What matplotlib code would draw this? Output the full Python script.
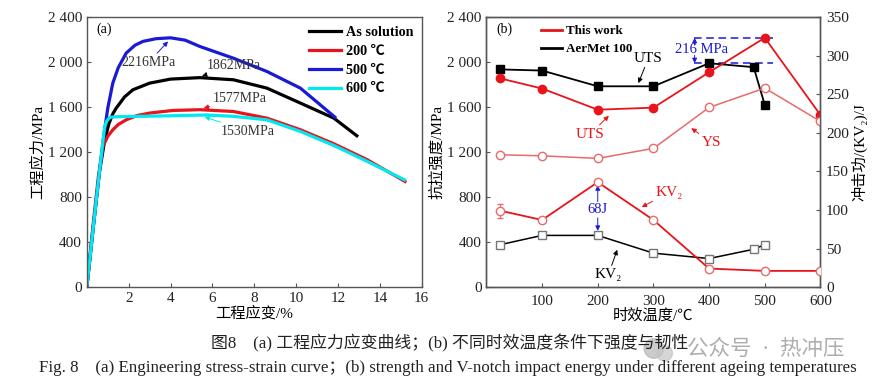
import matplotlib
matplotlib.use("Agg")
import matplotlib.pyplot as plt
from matplotlib.ticker import FuncFormatter
from matplotlib.lines import Line2D
from matplotlib.patches import Ellipse

plt.rcParams['font.family'] = ['Liberation Serif', 'Noto Sans CJK SC', 'DejaVu Sans']
plt.rcParams['axes.unicode_minus'] = False

# ---- (a) 工程应力应变曲线 ----
strain_solution = [0, 0.3, 0.6, 0.85, 1.05, 1.24, 1.4, 1.8, 2.2, 3.0, 4.0, 5.4, 7.0, 8.6, 10.2, 11.8, 12.9]
stress_solution = [0, 520, 1020, 1300, 1450, 1540, 1590, 1690, 1754, 1813, 1849, 1862, 1843, 1769, 1636, 1502, 1345]

strain_200 = [0, 0.29, 0.55, 0.77, 1.0, 1.24, 1.5, 1.88, 2.4, 3.0, 4.1, 5.4, 7.0, 8.6, 10.2, 11.8, 13.4, 15.2]
stress_200 = [0, 539, 980, 1250, 1340, 1398, 1445, 1487, 1525, 1547, 1570, 1577, 1561, 1502, 1399, 1274, 1132, 939]

strain_500 = [0, 0.3, 0.6, 0.8, 1.0, 1.24, 1.5, 1.88, 2.3, 2.68, 3.3, 4.0, 4.7, 5.4, 7.0, 8.6, 10.2, 11.85]
stress_500 = [0, 520, 1020, 1330, 1590, 1813, 1950, 2080, 2150, 2184, 2208, 2216, 2195, 2139, 2035, 1917, 1769, 1511]

strain_600 = [0, 0.3, 0.6, 0.85, 0.95, 1.05, 1.16, 1.5, 2.2, 3.8, 5.7, 7.0, 8.6, 10.2, 11.8, 13.4, 15.17]
stress_600 = [0, 520, 1020, 1428, 1475, 1500, 1511, 1515, 1517, 1522, 1530, 1518, 1487, 1384, 1259, 1117, 954]

# ---- (b) 不同时效温度下强度与韧性 ----
temp_this = [25, 100, 200, 300, 400, 500, 600]
uts_this = [1855, 1765, 1577, 1595, 1910, 2216, 1530]
ys_this = [1176, 1167, 1144, 1233, 1597, 1769, 1473]
kv2_this = [99, 87, 136, 87, 24, 21, 21]
kv2_this_err = [9, 2, 2, 1, 1, 1, 1]

temp_aermet = [25, 100, 200, 300, 400, 480, 500]
uts_aermet = [1935, 1925, 1785, 1785, 1990, 1955, 1620]
kv2_aermet = [55, 67, 67, 44, 37, 49, 55]

RED = '#e8141b'
PINK = '#e86a6a'
BLUE = '#1a1ad6'
CYAN = '#00e8f0'
SPINE = '#555555'


def thousands(v, pos):
    v = int(round(v))
    if v >= 1000:
        return f"{v // 1000} {v % 1000:03d}"
    return str(v)


def style_axes(ax):
    for s in ax.spines.values():
        s.set_color(SPINE)
        s.set_linewidth(1.0)
    ax.tick_params(direction='in', length=3, width=0.8, colors=SPINE,
                   labelcolor='#222222', labelsize=11)


fig = plt.figure(figsize=(8.86, 3.89), dpi=100)
ax1 = fig.add_axes([0.098, 0.262, 0.378, 0.694])
ax2 = fig.add_axes([0.549, 0.262, 0.377, 0.694])

# ---------------- panel (a) ----------------
ax1.plot(strain_solution, stress_solution, color='black', lw=2.3, label='As solution')
ax1.plot(strain_200, stress_200, color=RED, lw=2.3, label='200 ℃')
ax1.plot(strain_500, stress_500, color=BLUE, lw=2.3, label='500 ℃')
ax1.plot(strain_600, stress_600, color=CYAN, lw=2.3, label='600 ℃')
ax1.set_xlim(0, 16)
ax1.set_ylim(0, 2400)
ax1.set_xticks([2, 4, 6, 8, 10, 12, 14, 16])
ax1.set_yticks([0, 400, 800, 1200, 1600, 2000, 2400])
ax1.yaxis.set_major_formatter(FuncFormatter(thousands))
style_axes(ax1)
ax1.set_xlabel('工程应变/%', fontsize=11, labelpad=1)
ax1.set_ylabel('工程应力/MPa', fontsize=11, labelpad=2)
ax1.text(0.45, 2290, '(a)', fontsize=10, va='center')
ax1.legend(loc='upper right', frameon=False, handlelength=2.3,
           borderaxespad=0.2, labelspacing=0.42, handletextpad=0.3,
           prop={'weight': 'bold', 'size': 10.2})

ap = dict(arrowstyle='-|>', lw=0.7, mutation_scale=7, shrinkA=0, shrinkB=0)
ax1.annotate('2216MPa', xy=(3.88, 2184), xytext=(2.95, 1997), fontsize=10, ha='center', va='center',
             color='#333333', arrowprops=dict(ap, color=BLUE))
ax1.annotate('1862MPa', xy=(5.5, 1876), xytext=(5.75, 1967), fontsize=10, ha='left', va='center',
             color='#333333', arrowprops=dict(ap, color='black'))
ax1.annotate('1577MPa', xy=(5.58, 1591), xytext=(6.0, 1674), fontsize=10, ha='left', va='center',
             color='#333333', arrowprops=dict(ap, color=RED))
ax1.annotate('1530MPa', xy=(5.63, 1513), xytext=(6.4, 1384), fontsize=10, ha='left', va='center',
             color='#333333', arrowprops=dict(ap, color=CYAN))

# ---------------- panel (b) ----------------
ax2r = ax2.twinx()
ax2.plot(temp_aermet, uts_aermet, color='black', lw=1.3, marker='s', ms=5.5,
         mfc='black', mec='black', zorder=3)
ax2.plot(temp_this, uts_this, color=RED, lw=1.3, marker='o', ms=6,
         mfc=RED, mec=RED, zorder=3)
ax2.plot(temp_this, ys_this, color=PINK, lw=1.1, marker='o', ms=6,
         mfc='white', mec=PINK, zorder=3)
ax2r.errorbar(temp_this, kv2_this, yerr=kv2_this_err, color=RED, lw=1.3, marker='o', ms=6,
              mfc='white', mec=PINK, ecolor=PINK, elinewidth=0.8, capsize=2, zorder=3)
ax2r.plot(temp_aermet, kv2_aermet, color='black', lw=1.1, marker='s', ms=6,
          mfc='white', mec='#777777', zorder=3)

ax2.set_xlim(0, 600)
ax2.set_ylim(0, 2400)
ax2r.set_ylim(0, 350)
ax2.set_xticks([100, 200, 300, 400, 500, 600])
ax2.set_yticks([0, 400, 800, 1200, 1600, 2000, 2400])
ax2r.set_yticks([0, 50, 100, 150, 200, 250, 300, 350])
ax2.yaxis.set_major_formatter(FuncFormatter(thousands))
style_axes(ax2)
style_axes(ax2r)
ax2r.tick_params(axis='y', pad=4)
ax2.tick_params(axis='x', pad=6)
ax2.set_xlabel('时效温度/℃', fontsize=11, labelpad=0)
ax2.set_ylabel('抗拉强度/MPa', fontsize=11, labelpad=2)
ax2r.set_ylabel('冲击功/(KV₂)/J', fontsize=11, labelpad=2)
ax2.text(18, 2290, '(b)', fontsize=10, va='center')

handles = [Line2D([], [], color=RED, lw=2.0), Line2D([], [], color='black', lw=2.0)]
ax2.legend(handles, ['This work', 'AerMet 100'], loc='upper left', frameon=False,
           bbox_to_anchor=(0.14, 1.0), handlelength=1.6, labelspacing=0.45,
           handletextpad=0.35, borderaxespad=0.2, prop={'weight': 'bold', 'size': 9.4})

ax2.annotate('UTS', xy=(273, 1813), xytext=(291, 2036), fontsize=11, ha='center', va='center',
             color='black', arrowprops=dict(ap, color='black'))
ax2.annotate('UTS', xy=(220, 1523), xytext=(186, 1360), fontsize=11, ha='center', va='center',
             color=RED, arrowprops=dict(ap, color=RED))
ax2.annotate('YS', xy=(368, 1413), xytext=(404, 1286), fontsize=11, ha='center', va='center',
             color=RED, arrowprops=dict(ap, color=RED))
ax2.annotate('KV₂', xy=(279, 711), xytext=(328, 841), fontsize=11, ha='center', va='center',
             color=RED, arrowprops=dict(ap, color=RED))
ax2.annotate('KV₂', xy=(235, 332), xytext=(219, 110), fontsize=11, ha='center', va='center',
             color='black', arrowprops=dict(ap, color='black'))

# 68J double arrows
ax2.text(200, 687, '68J', fontsize=10.5, ha='center', va='center', color=BLUE)
ax2.annotate('', xy=(200, 905), xytext=(200, 760), arrowprops=dict(ap, color=BLUE))
ax2.annotate('', xy=(200, 500), xytext=(200, 615), arrowprops=dict(ap, color=BLUE))

# 216 MPa difference
ax2.plot([372, 515], [2216, 2216], color=BLUE, lw=1.1, ls=(0, (5, 3)))
ax2.plot([372, 515], [1991, 1991], color=BLUE, lw=1.1, ls=(0, (5, 3)))
ax2.annotate('', xy=(374, 2216), xytext=(374, 2150), arrowprops=dict(ap, color=BLUE))
ax2.annotate('', xy=(374, 1991), xytext=(374, 2060), arrowprops=dict(ap, color=BLUE))
ax2.text(386, 2116, '216 MPa', fontsize=10.5, ha='center', va='center', color=BLUE)

# captions
fig.text(0.507, 0.118, '图8　(a) 工程应力应变曲线；(b) 不同时效温度条件下强度与韧性',
         ha='center', va='center', fontsize=12.2, color='#222222')
fig.text(0.506, 0.054, 'Fig. 8　(a) Engineering stress-strain curve；(b) strength and V-notch impact energy under different ageing temperatures',
         ha='center', va='center', fontsize=12.2, color='#222222')

# watermark
fig.patches.append(Ellipse((0.738, 0.104), 0.022, 0.05, transform=fig.transFigure,
                           color='#b5b5b5', alpha=0.7))
fig.patches.append(Ellipse((0.750, 0.092), 0.018, 0.04, transform=fig.transFigure,
                           color='#c5c5c5', alpha=0.7))
fig.text(0.775, 0.100, '公众号  ·  热冲压', ha='left', va='center', fontsize=15.5,
         color='#9a9a9a', alpha=0.8)

fig.savefig('out.png', dpi=100)
